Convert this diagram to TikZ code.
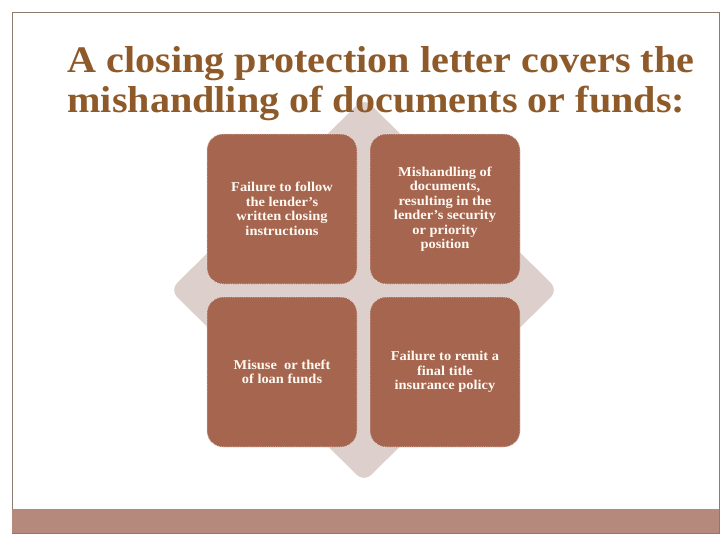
\documentclass[tikz,border=0pt]{standalone}
\usepackage{fontspec}
\setmainfont[FakeStretch=1.07]{Liberation Serif}
\definecolor{titlec}{HTML}{8E5A2A}
\definecolor{boxc}{HTML}{A5654E}
\definecolor{diac}{HTML}{DDD0CC}
\definecolor{barc}{HTML}{B5897C}
\definecolor{framec}{HTML}{8C7A6E}
\begin{document}
\begin{tikzpicture}[x=1pt,y=-1pt,
  card/.style={draw=white!80!boxc,densely dotted,line width=0.8pt,fill=boxc,rounded corners=16pt,minimum width=150pt,minimum height=150pt,align=center,text=white!95!orange,font=\bfseries\fontsize{13.5}{14.5}\selectfont}]
\useasboundingbox (0,0) rectangle (728,546);
\fill[white] (0,0) rectangle (728,546);
\draw[framec,line width=0.8pt] (12,12.5) rectangle (719,533);
\fill[barc] (12,509) rectangle (719,533);
\fill[diac,rounded corners=10pt] (364,98) -- (558,290) -- (364,482) -- (170,290) -- cycle;
\node[anchor=base west,text=titlec,font=\bfseries\fontsize{37.5}{40}\selectfont] (t1) at (64,72) {A closing protection letter covers the};
\node[anchor=base west,text=titlec,font=\bfseries\fontsize{37.5}{40}\selectfont] (t2) at (64,112) {mishandling of documents or funds:};
\node[card] (a) at (282,209) {Failure to follow\\the lender’s\\written closing\\instructions};
\node[card] (b) at (445,209) {Mishandling of\\documents,\\resulting in the\\lender’s security\\or priority\\position};
\node[card] (c) at (282,372) {Misuse\ \ or theft\\of loan funds};
\node[card] (d) at (445,372) {Failure to remit a\\final title\\insurance policy};
\end{tikzpicture}
\end{document}
